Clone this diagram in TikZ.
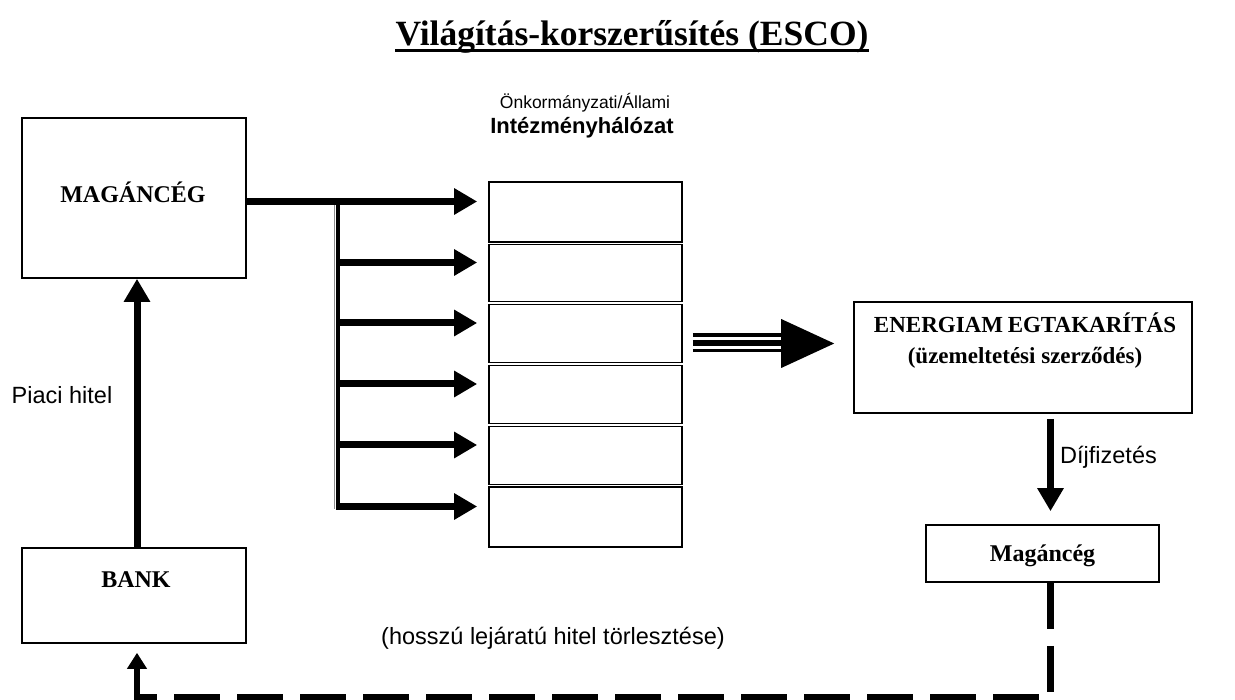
\documentclass[tikz,border=0pt]{standalone}
\usepackage{fontspec}
\setmainfont{Liberation Serif}
\setsansfont{Liberation Sans}
\usetikzlibrary{arrows.meta,calc}
\begin{document}
\begin{tikzpicture}[x=1pt,y=-1pt,
  box/.style={draw, line width=1.6pt, inner sep=0pt},
  serifbold/.style={font=\fontsize{24}{31}\selectfont\bfseries, align=center, inner sep=0pt},
  sanslabel/.style={font=\sffamily\fontsize{23.5}{27}\selectfont, inner sep=0pt},
  fat/.style={line width=7pt, -{Triangle[length=23pt,width=25pt]}},
  dashfat/.style={line width=6.5pt, dash pattern=on 46pt off 17pt},
  solidtip/.style={line width=6.5pt, -{Triangle[length=16pt,width=19pt]}},
]
\useasboundingbox (0,0) rectangle (1235,700);
% title
\node[font=\fontsize{35.5}{40}\selectfont\bfseries, anchor=base, inner sep=0pt] (title) at (632,46) {Világítás-korszerűsítés (ESCO)};
\draw[line width=2.5pt] ([yshift=-4.5pt]title.base west) -- ([yshift=-4.5pt]title.base east);
% header of the stack
\node[font=\sffamily\fontsize{17.5}{21}\selectfont, inner sep=0pt] (hdr1) at (585,103) {Önkormányzati/Állami};
\node[font=\sffamily\fontsize{22}{25}\selectfont\bfseries, inner sep=0pt] (hdr2) at (582,128) {Intézményhálózat};
% left boxes
\node[box, minimum width=224pt, minimum height=160pt] (mag) at (134,198) {};
\node[serifbold] (magt) at (133,192) {MAGÁNCÉG};
\node[box, minimum width=224pt, minimum height=95pt] (bank) at (134,595.5) {};
\node[serifbold] (bankt) at (136,580) {BANK};
\node[sanslabel] (piaci) at (62,395) {Piaci hitel};
% stack of institutions
\foreach \i/\c/\h in {1/212/60, 2/273/57, 3/333.5/58, 4/394.5/58, 5/455.5/58, 6/517/60}{
  \node[box, minimum width=193pt, minimum height=\h pt] (r\i) at (585.5,\c) {};
  \coordinate (a\i) at ([yshift=10.5pt]r\i.west);
}
% right boxes
\node[box, minimum width=338pt, minimum height=111pt] (en) at (1023,357.5) {};
\node[serifbold, font=\fontsize{23}{31}\selectfont\bfseries] (ent) at (1025,341) {ENERGIAM\kern-1pt{} EGTAKARÍTÁS\\(üzemeltetési szerződés)};
\node[box, minimum width=233pt, minimum height=57pt] (mg) at (1042.5,553.5) {};
\node[serifbold] (mgt) at (1042.5,556) {Magáncég};
\node[sanslabel, anchor=west] (dij) at (1060,457) {Díjfizetés};
\node[sanslabel] (hossz) at (553,638) {(hosszú lejáratú hitel törlesztése)};
% branch from MAGÁNCÉG to the stack
\coordinate (bt) at (338,205);
\coordinate (bb) at (338,509);
\draw[line width=1pt, black!45] ([xshift=-4pt]bt) -- ([xshift=-4pt]bb);
\draw[line width=4pt] (bt) -- (bb);
\draw[fat, shorten >=11pt] (mag.east |- a1) -- (a1);
\foreach \i in {2,...,6}{
  \draw[fat, shorten >=11pt] ([xshift=-2pt]bt |- a\i) -- (a\i);
}
% BANK -> MAGÁNCÉG
\draw[fat] ([xshift=3pt]bank.north) -- ([xshift=3pt]mag.south);
% triple arrow stack -> ENERGIAM
\coordinate (ts) at ([xshift=10pt, yshift=-10pt]r3.east);
\coordinate (te) at ([yshift=14pt]en.west);
\coordinate (tip) at ($(te)+(-19,0)$);
\fill (tip) -- ++(-53,-24.5) -- ++(0,49) -- cycle;
\draw[line width=4pt] ($(ts)+(0,-8)$) -- ($(tip)+(-52,-8)$);
\draw[line width=6pt] ($(ts)+(0,0)$) -- ($(tip)+(-52,0)$);
\draw[line width=3.5pt] ($(ts)+(0,7)$) -- ($(tip)+(-52,7)$);
% Díjfizetés arrow
\coordinate (dx) at ([xshift=8pt]mg.north);
\draw[fat, shorten >=13pt] ([yshift=-5pt]dx |- en.south) -- (dx);
% dashed repayment path
\coordinate (corner) at ([xshift=3pt]bank.south |- 0,697);
\draw[dashfat] ([xshift=8pt]mg.south) |- ([xshift=-3.25pt]corner);
\draw[solidtip, shorten >=9pt] ([yshift=-3.25pt]corner) -- ([xshift=3pt]bank.south);
\end{tikzpicture}
\end{document}
